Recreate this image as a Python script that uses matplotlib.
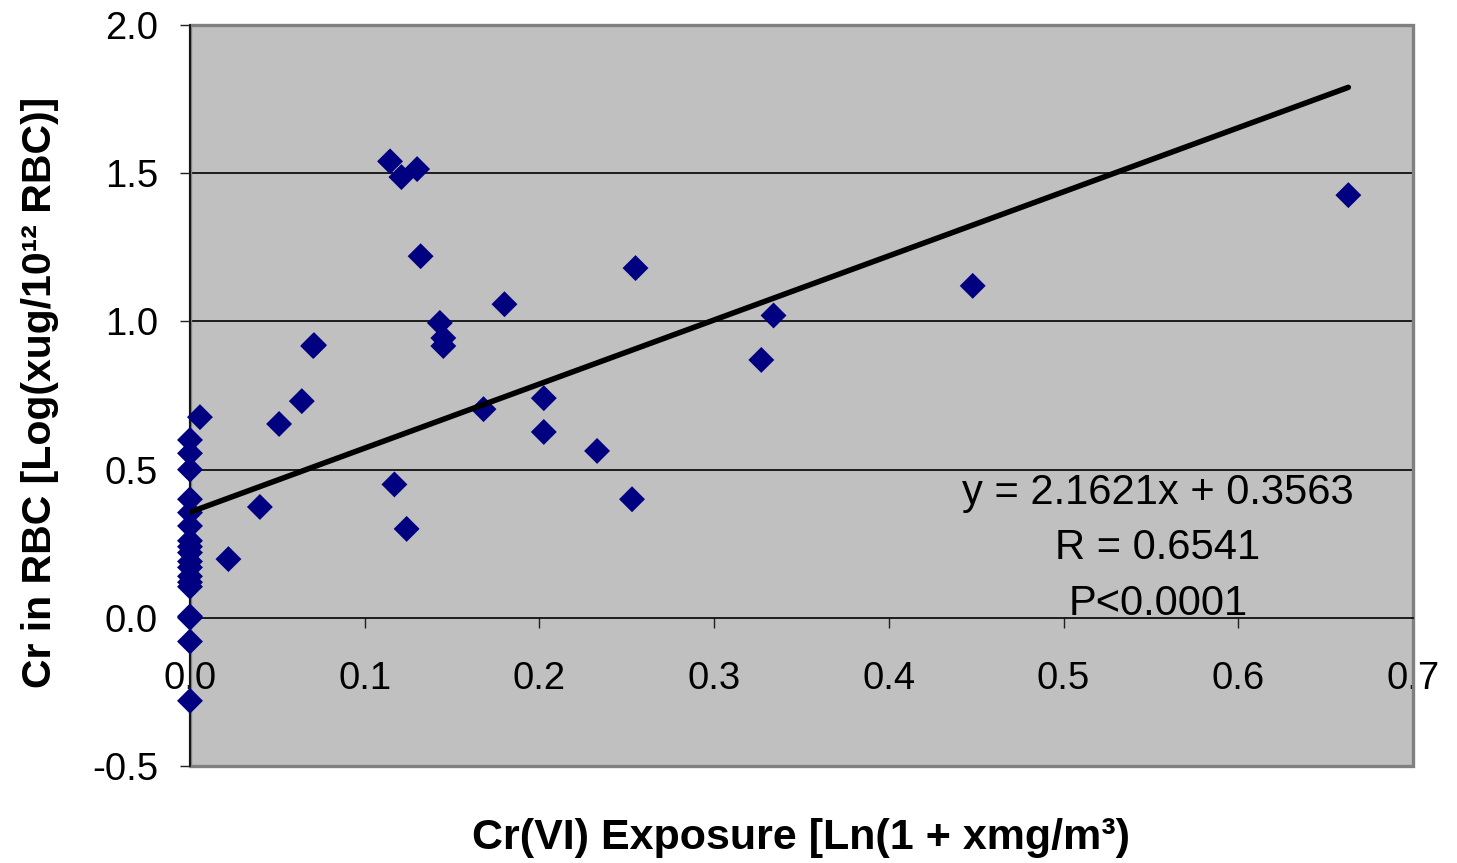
import numpy as np
import matplotlib.pyplot as plt
from matplotlib.patches import Rectangle

plt.rcParams['font.family'] = ['Liberation Sans', 'DejaVu Sans']

# Cr(VI) exposure [Ln(1 + x mg/m3)] and Cr in RBC [Log(x ug/10^12 RBC)]
exposure = [0.0, 0.0, 0.0, 0.0, 0.0, 0.0, 0.0, 0.0, 0.0, 0.0, 0.0, 0.0,
            0.0, 0.0, 0.0, 0.0, 0.0, 0.0,
            0.0057, 0.022, 0.040, 0.051, 0.064, 0.0705, 0.071,
            0.1145, 0.117, 0.121, 0.124, 0.130, 0.132, 0.143, 0.145, 0.145,
            0.168, 0.180, 0.2025, 0.2025, 0.233, 0.253, 0.255,
            0.327, 0.334, 0.448, 0.663]
cr_rbc = [0.60, 0.555, 0.50, 0.40, 0.355, 0.31, 0.26, 0.24, 0.22, 0.19,
          0.17, 0.14, 0.12, 0.105, 0.0, 0.005, -0.08, -0.28,
          0.677, 0.198, 0.374, 0.654, 0.731, 0.917, 0.92,
          1.54, 0.45, 1.487, 0.30, 1.514, 1.22, 0.995, 0.944, 0.917,
          0.704, 1.058, 0.741, 0.627, 0.563, 0.40, 1.18,
          0.87, 1.02, 1.12, 1.426]

slope = 2.1621
intercept = 0.3563
stats_lines = ['y = 2.1621x + 0.3563', 'R = 0.6541', 'P<0.0001']

fig = plt.figure(figsize=(14.57, 8.63), dpi=100)
ax = fig.add_axes([0.1304, 0.1124, 0.8394, 0.8586])
ax.set_facecolor('#C0C0C0')

ax.set_xlim(0, 0.7)
ax.set_ylim(-0.5, 2.0)
ax.set_xticks(np.arange(0, 0.71, 0.1))
ax.set_yticks(np.arange(-0.5, 2.01, 0.5))
ax.xaxis.set_major_formatter(plt.FormatStrFormatter('%.1f'))
ax.yaxis.set_major_formatter(plt.FormatStrFormatter('%.1f'))

for yv in [0.5, 1.0, 1.5]:
    ax.axhline(yv, color='#000000', lw=1.2, zorder=1)

ax.scatter(exposure, cr_rbc, marker='D', s=13.2 ** 2, color='#000080',
           edgecolors='none', zorder=3, clip_on=False)

xs = np.array(sorted(set(exposure)))
ax.plot(xs, slope * xs + intercept, color='black', lw=4.0,
        solid_capstyle='round', zorder=4)

text_y = [0.421, 0.235, 0.046]
for line, ty in zip(stats_lines, text_y):
    ax.text(0.554, ty, line, ha='center', va='center', fontsize=30, zorder=5)

# x axis crosses at y = 0, plot area framed in gray
ax.spines['bottom'].set_position(('data', 0))
ax.spines['bottom'].set_color('black')
ax.spines['bottom'].set_linewidth(1.2)
ax.spines['left'].set_color('black')
ax.spines['left'].set_linewidth(1.2)
ax.spines['top'].set_visible(False)
ax.spines['right'].set_visible(False)
ax.add_patch(Rectangle((0, 0), 1, 1, transform=ax.transAxes, fill=False,
                       ec='#808080', lw=2.4, clip_on=False, zorder=2))

ax.tick_params(axis='x', direction='out', length=7, width=1, pad=24,
               labelsize=27.5, color='#202020')
ax.tick_params(axis='y', direction='out', length=7, width=1, pad=16,
               labelsize=27.5, color='#202020')

fig.text(0.5497, 0.029, 'Cr(VI) Exposure [Ln(1 + xmg/m\u00b3)', ha='center',
         va='center', fontsize=31, fontweight='bold')
fig.text(0.0275, 0.545, 'Cr in RBC [Log(xug/10\u00b9\u00b2 RBC)]', ha='center',
         va='center', rotation=90, fontsize=29.5, fontweight='bold')

fig.savefig('out.png', dpi=100)
